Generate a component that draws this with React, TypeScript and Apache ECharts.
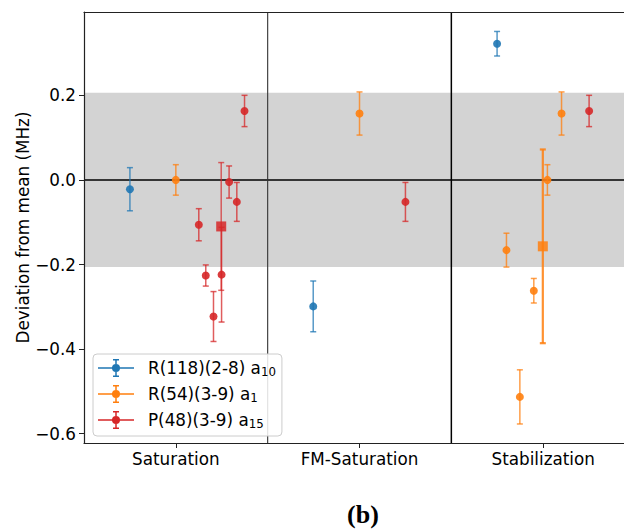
import React, { useEffect, useRef } from 'react';
import * as echarts from 'echarts';

const CATEGORIES = ['Saturation', 'FM-Saturation', 'Stabilization'];
const Y_TICKS = [-0.6, -0.4, -0.2, 0, 0.2];
const X_TICKS = [0, 1, 2];
const Y_MIN = -0.622;
const Y_MAX = 0.397;
// visible x extent (the right part of the original axes is cropped off)
const X_MIN = -0.5;
const X_MAX = 2.44;
const BAND = 0.206;
const SEPARATORS = [0.5, 1.5];

// R(118)(2-8) a10 (blue)
const blueX = [-0.25, 0.748, 1.749];
const blueY = [-0.022, -0.299, 0.322];
const blueErr = [0.051, 0.06, 0.029];

// R(54)(3-9) a1 (orange)
const orangeX = [0, 1.0, 1.8, 1.873, 1.949, 2.023, 2.1];
const orangeY = [0.0, 0.157, -0.166, -0.513, -0.262, 0.0, 0.157];
const orangeErr = [0.036, 0.051, 0.04, 0.064, 0.029, 0.036, 0.051];
const orangeMeanX = [1.998];
const orangeMeanY = [-0.157];
const orangeMeanErr = [0.229];

// P(48)(3-9) a15 (red)
const redX = [0.125, 0.163, 0.205, 0.249, 0.29, 0.332, 0.374, 1.25, 2.25];
const redY = [-0.106, -0.226, -0.323, -0.224, -0.005, -0.052, 0.163, -0.052, 0.163];
const redErr = [0.038, 0.025, 0.059, 0.112, 0.038, 0.046, 0.037, 0.046, 0.037];
const redMeanX = [0.247];
const redMeanY = [-0.11];
const redMeanErr = [0.151];

const BLUE = '#1f77b4';
const ORANGE = '#ff7f0e';
const RED = '#d62728';

const NAMES = ['R(118)(2-8) a10', 'R(54)(3-9) a1', 'P(48)(3-9) a15'];
const RICH_LABELS: Record<string, string> = {
  'R(118)(2-8) a10': '{m|R(118)(2-8) a}{s|10}',
  'R(54)(3-9) a1': '{m|R(54)(3-9) a}{s|1}',
  'P(48)(3-9) a15': '{m|P(48)(3-9) a}{s|15}',
};

const LEGEND_ICON =
  'path://M0,8.25H36V9.75H0Z M17.25,0H18.75V18H17.25Z M15,0H21V1.5H15Z M15,16.5H21V18H15Z M14,9A4,4 0 1,1 22,9A4,4 0 1,1 14,9Z';

const FONT = 'DejaVu Sans';
const FS = 16.8;

function zip3(a: number[], b: number[], c: number[]) {
  return a.map((v, i) => [v, b[i], c[i]]);
}

function errorBarSeries(
  name: string,
  color: string,
  data: number[][],
  square: boolean,
  barWidth: number,
  barOpacity: number
) {
  return {
    type: 'custom',
    name,
    z: 5,
    itemStyle: { color },
    encode: { x: 0, y: 1 },
    data,
    renderItem: (params: any, api: any) => {
      const x = api.value(0);
      const y = api.value(1);
      const e = api.value(2);
      const c = api.coord([x, y]);
      const t = api.coord([x, y + e]);
      const b = api.coord([x, y - e]);
      const cap = 3;
      const barStyle = { stroke: color, lineWidth: barWidth, opacity: barOpacity };
      const marker = square
        ? {
            type: 'rect',
            shape: { x: c[0] - 5, y: c[1] - 5, width: 10, height: 10 },
            style: { fill: color, opacity: 0.85 },
          }
        : {
            type: 'circle',
            shape: { cx: c[0], cy: c[1], r: 4 },
            style: { fill: color, opacity: 0.9 },
          };
      return {
        type: 'group',
        children: [
          { type: 'line', shape: { x1: c[0], y1: t[1], x2: c[0], y2: b[1] }, style: barStyle },
          { type: 'line', shape: { x1: c[0] - cap, y1: t[1], x2: c[0] + cap, y2: t[1] }, style: barStyle },
          { type: 'line', shape: { x1: c[0] - cap, y1: b[1], x2: c[0] + cap, y2: b[1] }, style: barStyle },
          marker,
        ],
      };
    },
  };
}

export default function App() {
  const ref = useRef<HTMLDivElement>(null);
  useEffect(() => {
    const chart = echarts.init(ref.current!, null, { renderer: 'svg' });
    const axisLineStyle = { color: '#222', width: 1.2 };
    const option: any = {
      animation: false,
      textStyle: { fontFamily: FONT },
      title: {
        text: '(b)',
        left: 358,
        top: 496,
        textAlign: 'center',
        textStyle: { fontFamily: 'Liberation Serif', fontWeight: 'bold', fontSize: 26, color: '#000' },
      },
      grid: {
        left: 84,
        top: 12,
        right: 0,
        bottom: 86,
        show: false,
      },
      xAxis: [
        {
          type: 'value',
          min: X_MIN,
          max: X_MAX,
          z: 10,
          splitLine: { show: false },
          axisLine: { show: true, onZero: false, lineStyle: axisLineStyle },
          axisTick: { show: true, customValues: X_TICKS, length: 5, lineStyle: { color: '#222' } },
          axisLabel: {
            customValues: X_TICKS,
            formatter: (v: number) => CATEGORIES[Math.round(v)] ?? '',
            fontSize: FS,
            color: '#000',
            fontFamily: FONT,
            margin: 7,
          },
        },
        {
          type: 'value',
          position: 'top',
          min: X_MIN,
          max: X_MAX,
          z: 10,
          splitLine: { show: false },
          axisLine: { show: true, onZero: false, lineStyle: axisLineStyle },
          axisTick: { show: false },
          axisLabel: { show: false },
        },
      ],
      yAxis: {
        type: 'value',
        min: Y_MIN,
        max: Y_MAX,
        z: 10,
        name: 'Deviation from mean (MHz)',
        nameLocation: 'middle',
        nameGap: 53,
        nameMoveOverlap: false,
        nameTextStyle: { fontSize: FS, color: '#000', fontFamily: FONT },
        splitLine: { show: false },
        axisLine: { show: true, onZero: false, lineStyle: axisLineStyle },
        axisTick: { show: true, customValues: Y_TICKS, length: 5, lineStyle: { color: '#222' } },
        axisLabel: {
          customValues: Y_TICKS,
          formatter: (v: number) => (v < -1e-9 ? '\u2212' : '') + Math.abs(v).toFixed(1),
          fontSize: FS,
          color: '#000',
          fontFamily: FONT,
          margin: 8,
        },
      },
      legend: {
        orient: 'vertical',
        left: 93,
        top: 354,
        padding: [5, 6, 6, 5],
        itemGap: 7,
        itemWidth: 36,
        itemHeight: 18,
        borderColor: '#cccccc',
        borderWidth: 1,
        borderRadius: 4,
        backgroundColor: 'rgba(255,255,255,0.85)',
        data: NAMES.map((n) => ({ name: n, icon: LEGEND_ICON })),
        formatter: (n: string) => RICH_LABELS[n] ?? n,
        textStyle: {
          color: '#000',
          fontFamily: FONT,
          rich: {
            m: { fontSize: FS, lineHeight: 20, padding: [0, 0, 0, 9], color: '#000', fontFamily: FONT },
            s: { fontSize: 11.8, lineHeight: 10.5, verticalAlign: 'bottom', color: '#000', fontFamily: FONT },
          },
        },
      },
      series: [
        {
          type: 'custom',
          name: 'background',
          z: 1,
          silent: true,
          encode: { x: 0, y: 1 },
          data: [[0, 0]],
          renderItem: (params: any, api: any) => {
            const tl = api.coord([X_MIN, BAND]);
            const br = api.coord([X_MAX, -BAND]);
            const z0 = api.coord([X_MIN, 0]);
            const z1 = api.coord([X_MAX, 0]);
            const children: any[] = [
              {
                type: 'rect',
                shape: { x: tl[0], y: tl[1], width: br[0] - tl[0], height: br[1] - tl[1] },
                style: { fill: '#d3d3d3' },
              },
              {
                type: 'line',
                shape: { x1: z0[0], y1: z0[1], x2: z1[0], y2: z1[1] },
                style: { stroke: '#000', lineWidth: 1.5 },
              },
            ];
            SEPARATORS.forEach((s, i) => {
              const a = api.coord([s, Y_MAX]);
              const b = api.coord([s, Y_MIN]);
              children.push({
                type: 'line',
                shape: { x1: a[0], y1: a[1], x2: b[0], y2: b[1] },
                style: { stroke: i === 0 ? '#333' : '#000', lineWidth: i === 0 ? 1.1 : 1.5 },
              });
            });
            return { type: 'group', children };
          },
        },
        errorBarSeries(NAMES[0], BLUE, zip3(blueX, blueY, blueErr), false, 1.5, 0.75),
        errorBarSeries(NAMES[1], ORANGE, zip3(orangeX, orangeY, orangeErr), false, 1.5, 0.75),
        errorBarSeries(NAMES[2], RED, zip3(redX, redY, redErr), false, 1.5, 0.75),
        errorBarSeries('orange mean', ORANGE, zip3(orangeMeanX, orangeMeanY, orangeMeanErr), true, 2.2, 0.85),
        errorBarSeries('red mean', RED, zip3(redMeanX, redMeanY, redMeanErr), true, 1.5, 0.7),
      ],
    };
    chart.setOption(option);
    return () => chart.dispose();
  }, []);
  return <div ref={ref} style={{ position: 'absolute', left: 0, top: 0, width: 624, height: 529 }} />;
}
